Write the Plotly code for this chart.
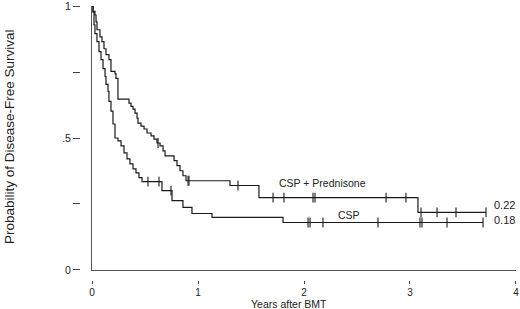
import plotly.graph_objects as go

# ---- data (years, survival) ----
pred_times = [0, 0.01, 0.028, 0.038, 0.047, 0.075, 0.094, 0.113, 0.132, 0.16, 0.179, 0.217, 0.226,
              0.245, 0.349, 0.368, 0.387, 0.406, 0.425, 0.434, 0.462, 0.491, 0.519, 0.557, 0.585,
              0.613, 0.642, 0.67, 0.689, 0.774, 0.802, 0.83, 0.858, 0.887, 1.302, 1.575, 3.075, 3.717]
pred_surv = [1.0, 0.98, 0.966, 0.94, 0.91, 0.883, 0.865, 0.838, 0.816, 0.797, 0.752, 0.744, 0.726,
             0.647, 0.632, 0.62, 0.609, 0.594, 0.575, 0.556, 0.545, 0.534, 0.519, 0.508, 0.496,
             0.481, 0.47, 0.451, 0.432, 0.414, 0.395, 0.376, 0.357, 0.338, 0.32, 0.274, 0.218, 0.218]
pred_censor = [0.623, 0.906, 0.915, 1.377, 1.708, 1.811, 2.085, 2.104, 2.774, 2.962, 3.104, 3.255, 3.434, 3.717]

csp_times = [0, 0.01, 0.019, 0.028, 0.047, 0.066, 0.085, 0.104, 0.123, 0.132, 0.151, 0.16, 0.179,
             0.198, 0.217, 0.245, 0.274, 0.302, 0.33, 0.358, 0.387, 0.415, 0.443, 0.472, 0.66,
             0.755, 0.858, 0.943, 1.132, 1.802, 3.689]
csp_surv = [1.0, 0.977, 0.929, 0.895, 0.865, 0.827, 0.797, 0.763, 0.733, 0.703, 0.677, 0.639, 0.602,
            0.553, 0.5, 0.489, 0.47, 0.444, 0.421, 0.402, 0.383, 0.368, 0.35, 0.335, 0.301,
            0.263, 0.237, 0.214, 0.199, 0.18, 0.18]
csp_censor = [0.528, 0.632, 0.745, 2.038, 2.057, 2.179, 2.698, 3.094, 3.113, 3.349, 3.689]

x_ticks = [0, 1, 2, 3, 4]
y_ticks = [0, 0.25, 0.5, 0.75, 1]
y_ticklabels = ["0", "", ".5", "", "1"]


def surv_at(times, surv, t):
    s = surv[0]
    for ti, si in zip(times, surv):
        if ti <= t:
            s = si
    return s


INK = "#1a1a1a"
FONT = "Liberation Sans, Arial, sans-serif"

fig = go.Figure()
for times, surv, cens in [(pred_times, pred_surv, pred_censor), (csp_times, csp_surv, csp_censor)]:
    fig.add_trace(go.Scatter(x=times, y=surv, mode="lines", line=dict(shape="hv", color=INK, width=1.2),
                             showlegend=False, hoverinfo="skip", cliponaxis=False))
    fig.add_trace(go.Scatter(x=cens, y=[surv_at(times, surv, c) for c in cens], mode="markers",
                             marker=dict(symbol="line-ns", size=7, line=dict(color=INK, width=1.1)),
                             showlegend=False, hoverinfo="skip", cliponaxis=False))

W, H = 520, 309
ml, mr, mt, mb = 80, 4, 6, 29
pw = W - ml - mr
ph = H - mt - mb
x0 = (92 - ml) / pw
y0 = (280 - 270) / ph
eps = 1e-4

fig.update_layout(
    width=W, height=H, margin=dict(l=ml, r=mr, t=mt, b=mb, autoexpand=False),
    paper_bgcolor="white", plot_bgcolor="white",
    font=dict(family=FONT, size=11, color="#222"),
    xaxis=dict(domain=[x0, 1], range=[0, 4], showgrid=False, zeroline=False, showline=True,
               linecolor="#555", linewidth=1, showticklabels=False, ticks="", automargin=False),
    yaxis=dict(domain=[y0, 1], range=[0, 1], showgrid=False, zeroline=False, showline=True,
               linecolor="#555", linewidth=1, showticklabels=False, ticks="", automargin=False),
    xaxis2=dict(overlaying="x", anchor="free", position=0, range=[-eps, 4 + eps], showgrid=False,
                zeroline=False, showline=False, tickvals=x_ticks, ticktext=[str(v) for v in x_ticks],
                ticks="outside", ticklen=3, tickcolor="#444", tickfont=dict(size=10, color="#222"),
                ticklabeloverflow="allow", automargin=False),
    yaxis2=dict(overlaying="y", anchor="free", position=0, range=[-eps, 1 + eps], showgrid=False,
                zeroline=False, showline=False, tickvals=y_ticks, ticktext=y_ticklabels,
                ticks="outside", ticklen=7, tickcolor="#444", tickfont=dict(size=10.5, color="#222"),
                ticklabeloverflow="allow", automargin=False),
    annotations=[
        dict(text="Probability of Disease-Free Survival", xref="paper", yref="paper",
             x=(9 - ml) / pw, y=(280 - 137) / ph, textangle=-90, showarrow=False,
             font=dict(size=13.5), xanchor="center", yanchor="middle"),
        dict(text="Years after BMT", xref="paper", yref="paper", x=(289 - ml) / pw,
             y=(280 - 304) / ph, showarrow=False, font=dict(size=10.5), xanchor="center", yanchor="middle"),
        dict(text="CSP + Prednisone", x=2.17, y=0.331, xref="x", yref="y", showarrow=False,
             font=dict(size=10.5), xanchor="center", yanchor="middle"),
        dict(text="CSP", x=2.42, y=0.21, xref="x", yref="y", showarrow=False,
             font=dict(size=10.5), xanchor="center", yanchor="middle"),
        dict(text="0.22", x=3.77, y=0.248, xref="x", yref="y", showarrow=False,
             font=dict(size=11), xanchor="left", yanchor="middle"),
        dict(text="0.18", x=3.77, y=0.188, xref="x", yref="y", showarrow=False,
             font=dict(size=11), xanchor="left", yanchor="middle"),
    ],
)
# dummy trace to activate overlay axes
fig.add_trace(go.Scatter(x=[None], y=[None], xaxis="x2", yaxis="y2", showlegend=False))

fig.write_html("out.html", config={"displayModeBar": False},
               post_script="document.body.style.margin='0px';document.body.style.padding='0px';")
